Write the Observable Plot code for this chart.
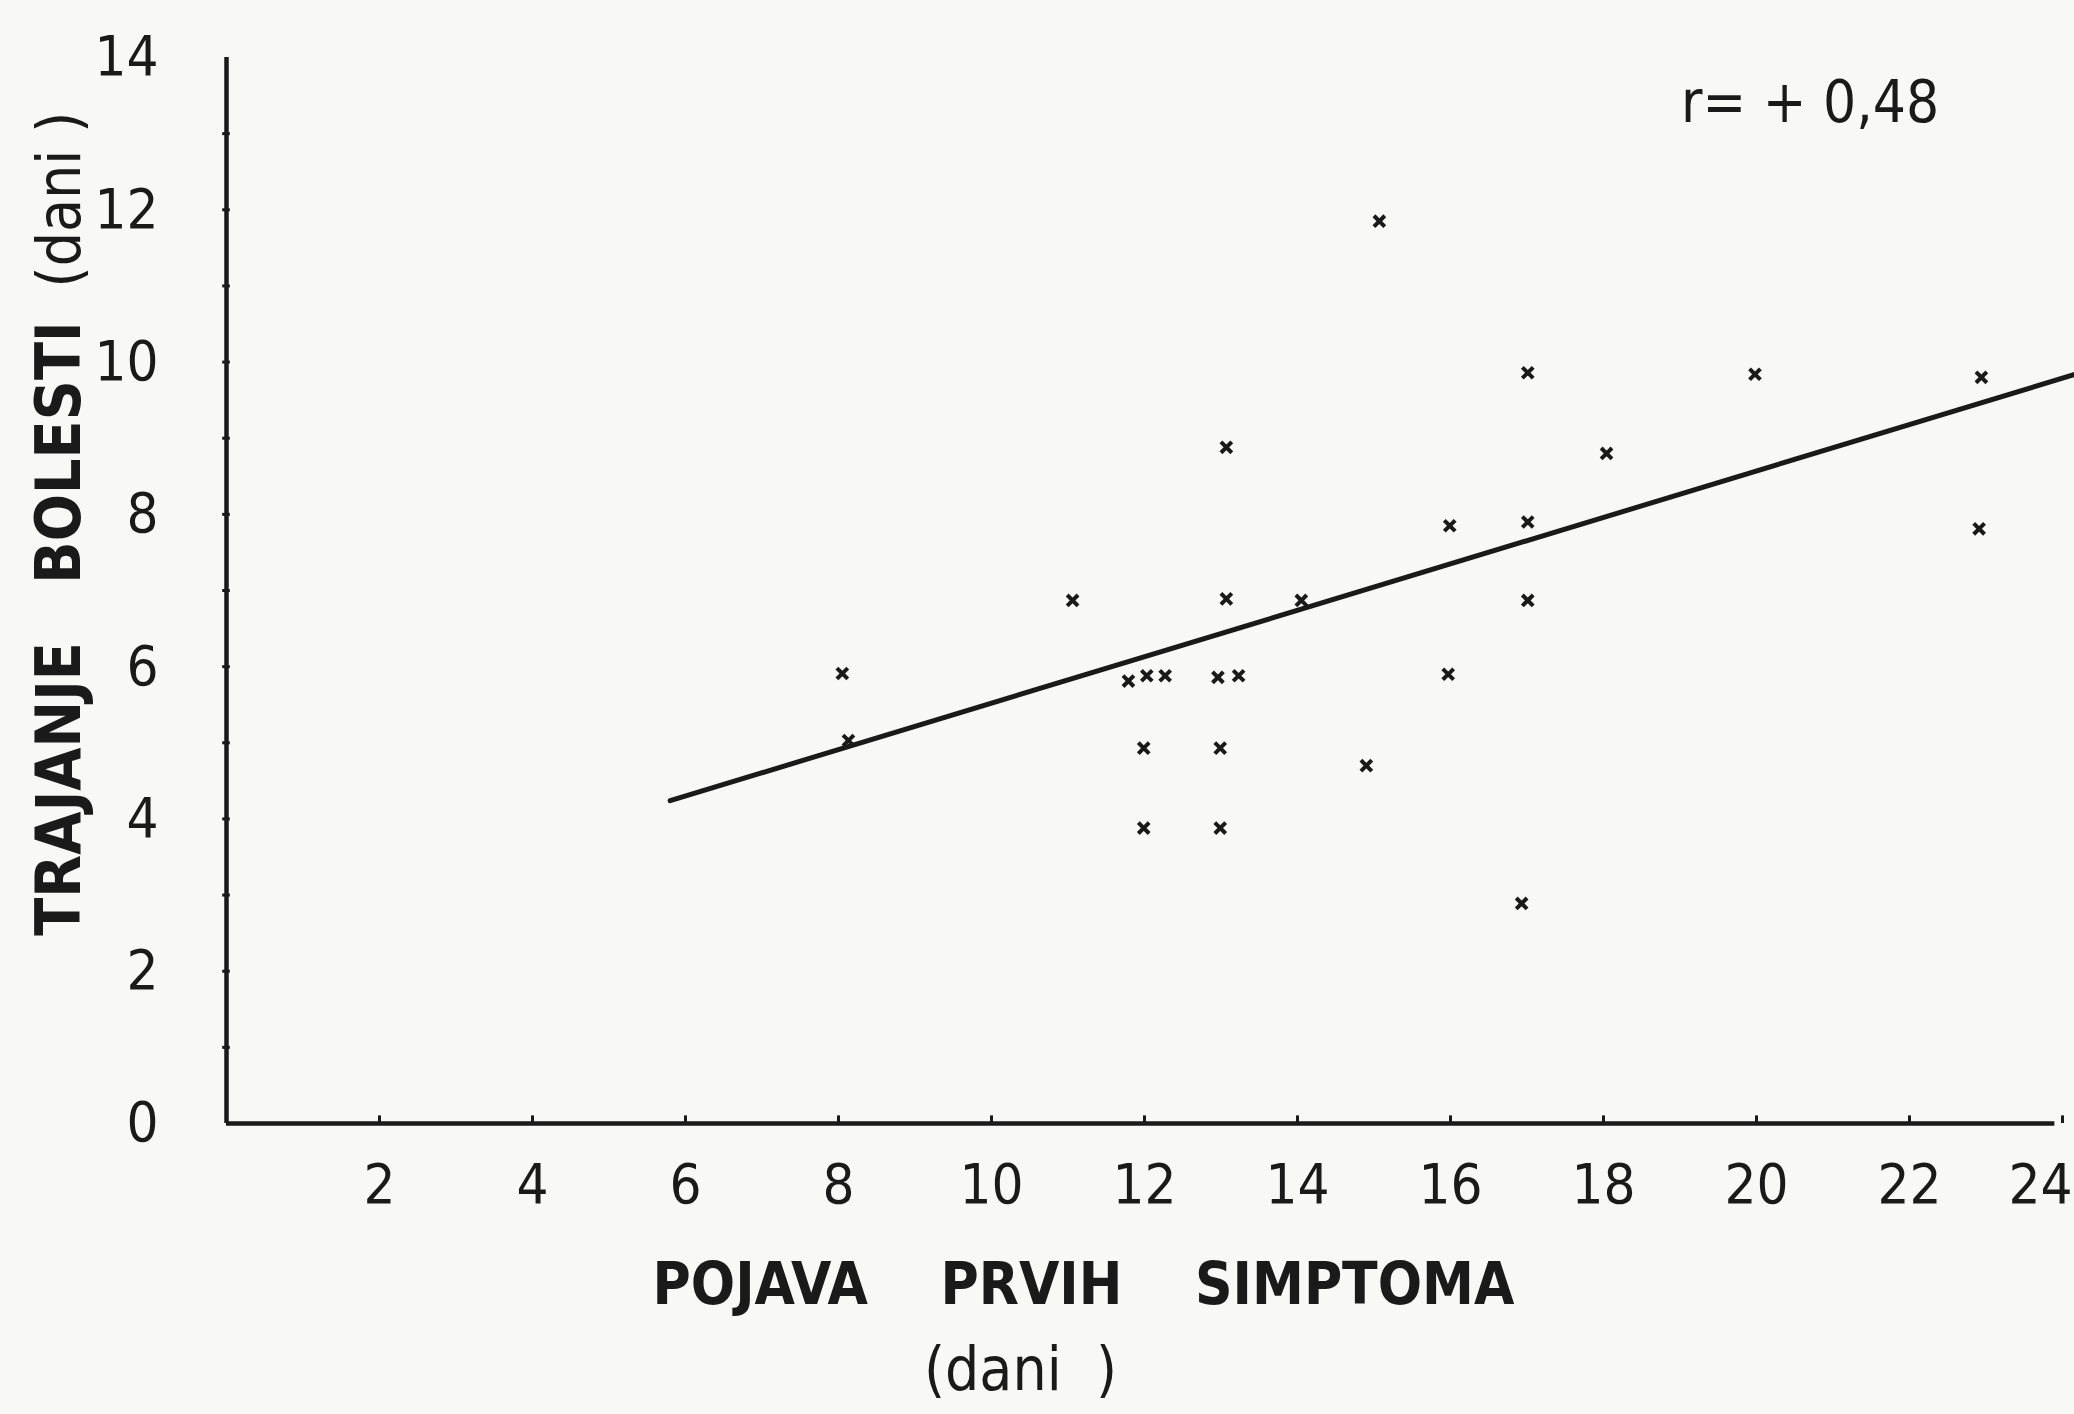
<!DOCTYPE html>
<html>
<head>
<meta charset="utf-8">
<script src="https://cdn.jsdelivr.net/npm/d3@7"></script>
<script src="https://cdn.jsdelivr.net/npm/@observablehq/plot@0.6"></script>
<style>
  html, body { margin: 0; padding: 0; background: #f8f8f7; }
  #chart svg { display: block; }
</style>
</head>
<body>
<div id="chart"></div>
<script>
// Onset of first symptoms (days)
const onsetDays = [8.05, 8.13, 11.06, 11.79, 12.03, 12.27, 11.99, 11.99, 13.07, 13.07, 12.96, 13.23, 12.99, 12.99, 14.05, 14.9, 15.07, 15.99, 15.97, 17.01, 17.01, 17.01, 16.93, 18.04, 19.98, 22.94, 22.91];
// Duration of disease (days)
const durationDays = [5.91, 5.03, 6.87, 5.81, 5.88, 5.88, 4.93, 3.88, 8.88, 6.89, 5.86, 5.88, 4.93, 3.88, 6.87, 4.70, 11.85, 7.85, 5.90, 9.86, 7.90, 6.87, 2.89, 8.80, 9.84, 9.80, 7.81];
// Regression line end points
const lineX = [5.8, 24.2];
const lineY = [4.24, 9.85];
// Tick labels
const xTickLabels = [2, 4, 6, 8, 10, 12, 14, 16, 18, 20, 22];
const xLastTickLabel = [24];
const xTickMarks = [2, 4, 6, 8, 10, 12, 14, 16, 18, 20, 22, 24];
const yTickLabels = [0, 2, 4, 6, 8, 10, 12, 14];
const yMinorTicks = [1, 2, 3, 4, 5, 6, 7, 8, 9, 10, 11, 12, 13];
// Texts
const xTitle = "POJAVA\u00a0\u00a0\u00a0\u00a0PRVIH\u00a0\u00a0\u00a0\u00a0SIMPTOMA";
const xSubTitle = "(dani\u00a0\u00a0)";
const yTitle = "TRAJANJE\u00a0\u00a0\u00a0BOLESTI";
const ySubTitle = "(dani\u00a0)";
const annotation = [{x: 20.7, y: 13.4, text: "r=\u00a0+\u00a00,48"}];

const points = onsetDays.map((x, i) => ({x, y: durationDays[i]}));
const regression = lineX.map((x, i) => ({x, y: lineY[i]}));

const font = '"Liberation Sans Narrow", "DejaVu Sans Condensed", "Roboto Condensed", "Liberation Sans", sans-serif';
const ink = "#1a1a1a";

const chart = Plot.plot({
  width: 2074,
  height: 1414,
  marginLeft: 226,
  marginRight: 12,
  marginTop: 57,
  marginBottom: 291,
  style: {background: "#f8f8f7", color: ink, fontFamily: font, fontSize: "56px"},
  x: {domain: [0, 24], axis: null},
  y: {domain: [0, 14], axis: null},
  marks: [
    // axis lines
    Plot.ruleX([0], {y1: 0, y2: 14, stroke: ink, strokeWidth: 4.5}),
    Plot.ruleY([0], {x1: 0, x2: 23.9, stroke: ink, strokeWidth: 4.5}),
    // small ticks
    Plot.ruleY(yMinorTicks, {x1: -0.05, x2: 0.05, stroke: ink, strokeWidth: 3}),
    Plot.ruleX(xTickMarks, {y1: 0, y2: 0.1, stroke: ink, strokeWidth: 3}),
    // tick labels
    Plot.axisX(xTickLabels, {tickSize: 0, tickPadding: 40, fontSize: 56, tickFormat: d => String(d), label: null}),
    Plot.axisX(xLastTickLabel, {tickSize: 0, tickPadding: 40, fontSize: 56, textAnchor: "end", dx: 10, tickFormat: d => String(d), label: null}),
    Plot.axisY(yTickLabels, {tickSize: 0, tickPadding: 68, fontSize: 56, tickFormat: d => String(d), label: null}),
    // regression line
    Plot.line(regression, {x: "x", y: "y", stroke: ink, strokeWidth: 5}),
    // data points
    Plot.dot(points, {x: "x", y: "y", symbol: "times", r: 5, stroke: ink, strokeWidth: 4}),
    // annotation
    Plot.text(annotation, {x: "x", y: "y", text: "text", fontSize: 58, fill: ink}),
    // axis titles
    Plot.text([xTitle], {frameAnchor: "bottom", textAnchor: "middle", dx: -61, dy: 180, fontSize: 58, fontWeight: "bold", fill: ink}),
    Plot.text([xSubTitle], {frameAnchor: "bottom", textAnchor: "middle", dx: -124, dy: 266, fontSize: 60, fill: ink}),
    Plot.text([yTitle], {frameAnchor: "left", textAnchor: "middle", dx: -166, dy: 38, rotate: -90, fontSize: 62, fontWeight: "bold", fill: ink}),
    Plot.text([ySubTitle], {frameAnchor: "left", textAnchor: "middle", dx: -166, dy: -391, rotate: -90, fontSize: 60, fill: ink})
  ]
});
document.getElementById("chart").appendChild(chart);
</script>
</body>
</html>
